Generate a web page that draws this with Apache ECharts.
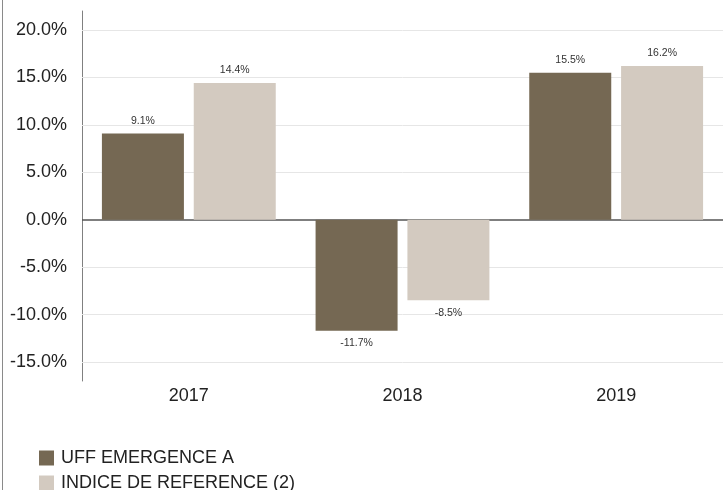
<!DOCTYPE html>
<html lang="fr">
  <head>
    <meta charset="UTF-8" />
    <title>Performances annuelles</title>
    <script src="https://cdn.jsdelivr.net/npm/echarts@6/dist/echarts.min.js"></script>
    <style>
      html, body { margin: 0; padding: 0; background: #fff; }
      .frame {
        position: absolute;
        left: 2px; top: 0;
        width: 0; height: 490px;
        border-left: 1px solid #8a8a8a;
      }
      .echarts {
        position: absolute;
        left: 0; top: 0;
        width: 723px;
        height: 490px;
      }
    </style>
  </head>
  <body>
    <div class="frame"></div>
    <div class="echarts"></div>
    <script>
        // données
        const years = ['2017', '2018', '2019']
        const fundName = 'UFF EMERGENCE A'
        const indexName = 'INDICE DE REFERENCE (2)'
        const fundValues = [9.1, -11.7, 15.5]
        const indexValues = [14.4, -8.5, 16.2]
        const gridTicks = [-15, -10, -5, 5, 10, 15, 20]

        const myCharts = echarts.init(document.querySelector('.echarts'))

        // étiquette au-dessus pour les positifs, en dessous pour les négatifs
        const toItems = (arr) => arr.map((v) => ({
            value: v,
            label: {position: v < 0 ? 'bottom' : 'top'}
        }))

        const barLabel = {
            show: true,
            fontFamily: 'Liberation Sans',
            fontSize: 10.5,
            color: '#333',
            distance: 7,
            formatter: (p) => p.value.toFixed(1) + '%'
        }

        const option = {
            animation: false,
            textStyle: {fontFamily: 'Liberation Sans'},
            grid: {left: 82, right: 0, top: 11, bottom: 109},
            legend: {
                orient: 'vertical',
                left: 34,
                top: 444,
                height: 80,
                itemWidth: 15,
                itemHeight: 15,
                itemGap: 7,
                icon: 'rect',
                textStyle: {fontSize: 18, color: '#222', padding: [0, 0, 0, 2]},
                data: [fundName, indexName]
            },
            xAxis: {
                type: 'category',
                data: years,
                axisLine: {show: false},
                axisTick: {show: false},
                axisLabel: {fontSize: 18, color: '#222', margin: 6}
            },
            yAxis: {
                type: 'value',
                min: -17,
                max: 22,
                interval: 1,
                axisLine: {show: true, lineStyle: {color: '#808080', width: 1}},
                axisTick: {show: false},
                splitLine: {show: false},
                axisLabel: {
                    fontSize: 18,
                    color: '#222',
                    margin: 15,
                    formatter: (v) => (v % 5 === 0 ? v.toFixed(1) + '%' : '')
                }
            },
            series: [
                {
                    name: fundName,
                    type: 'bar',
                    barWidth: 82,
                    barGap: '12%',
                    itemStyle: {color: '#756853'},
                    label: barLabel,
                    data: toItems(fundValues),
                    z: 3,
                    markLine: {
                        silent: true,
                        symbol: 'none',
                        label: {show: false},
                        z: 1,
                        data: gridTicks.map((v) => ({
                            yAxis: v,
                            lineStyle: {color: '#e6e6e6', width: 1, type: 'solid'}
                        })).concat([{
                            yAxis: 0,
                            lineStyle: {color: '#555', width: 1.5, type: 'solid'}
                        }])
                    }
                },
                {
                    name: indexName,
                    type: 'bar',
                    barWidth: 82,
                    barGap: '12%',
                    itemStyle: {color: '#d3cac0'},
                    label: barLabel,
                    data: toItems(indexValues),
                    z: 3
                }
            ]
        }

        myCharts.setOption(option)
    </script>
  </body>
</html>
